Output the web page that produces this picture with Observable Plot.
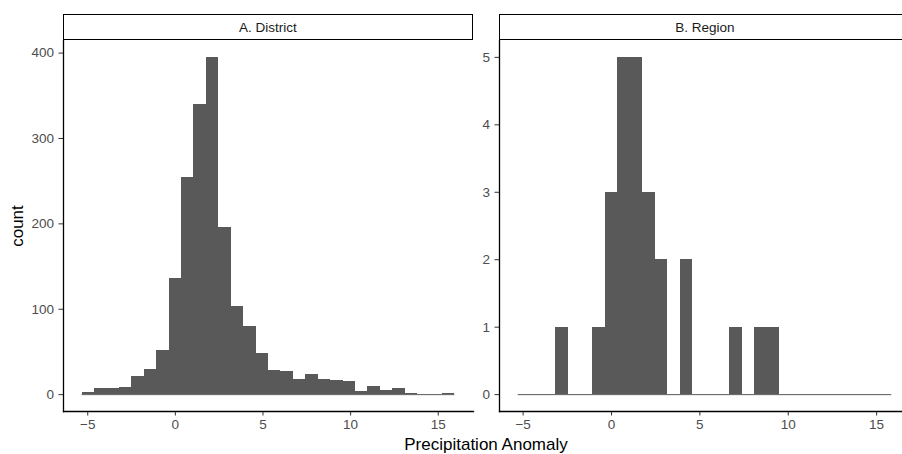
<!DOCTYPE html>
<html>
<head>
<meta charset="utf-8">
<script src="https://cdn.jsdelivr.net/npm/d3@7"></script>
<script src="https://cdn.jsdelivr.net/npm/@observablehq/plot@0.6"></script>
<style>
  html, body { margin: 0; padding: 0; background: #fff; }
  #wrap { position: relative; width: 902px; height: 454px; overflow: hidden; font-family: "Liberation Sans", Arial, Helvetica, sans-serif; }
  .strip { position: absolute; top: 14px; height: 26px; box-sizing: border-box; border: 1.5px solid #000; background: #fff;
           font-size: 13.5px; color: #1a1a1a; display: flex; align-items: center; justify-content: center; }
  .plot { position: absolute; top: 40px; }
  .plot svg { max-width: none !important; }
  #xtitle { position: absolute; top: 435px; left: 0; width: 972px; text-align: center; font-size: 17px; color: #000; }
  #ytitle { position: absolute; left: 18px; top: 226px; transform: translate(-50%, -50%) rotate(-90deg); font-size: 17px; color: #000; white-space: nowrap; }
</style>
</head>
<body>
<div id="wrap">
  <div class="strip" id="stripA" style="left:63px; width:410px;">A. District</div>
  <div class="strip" id="stripB" style="left:499px; width:412px;">B. Region</div>
  <div class="plot" id="plotA" style="left:0px; width:485px;"></div>
  <div class="plot" id="plotB" style="left:440px; width:481px;"></div>
  <div id="ytitle">count</div>
  <div id="xtitle">Precipitation Anomaly</div>
</div>
<script>
// ---- data ----
const panelTitles = ["A. District", "B. Region"];
const xTicks = [-5, 0, 5, 10, 15];
const districtRange = [-5.32, 15.95];
const districtCounts = [2, 7, 7, 8, 21, 30, 52, 136, 254, 340, 395, 196, 103, 80, 48, 28, 27, 18, 24, 18, 16, 15, 4, 10, 5, 7, 1, 0, 0, 1];
const districtYTicks = [0, 100, 200, 300, 400];
const regionRange = [-5.28, 15.86];
const regionCounts = [0, 0, 0, 1, 0, 0, 1, 3, 5, 5, 3, 2, 0, 2, 0, 0, 0, 1, 0, 1, 1, 0, 0, 0, 0, 0, 0, 0, 0, 0];
const regionYTicks = [0, 1, 2, 3, 4, 5];

function bins(range, counts) {
  const w = (range[1] - range[0]) / counts.length;
  return counts.map((c, i) => ({x1: range[0] + i * w, x2: range[0] + (i + 1) * w, count: c}));
}

function panel(range, counts, yTicks, opts) {
  const data = bins(range, counts);
  const maxC = d3.max(counts);
  const span = range[1] - range[0];
  const xDom = [range[0] - 0.05 * span, range[1] + 0.05 * span];
  const yDom = [-0.05 * maxC, maxC * 1.05];
  return Plot.plot({
    width: opts.width,
    height: 414,
    marginLeft: opts.marginLeft,
    marginRight: opts.marginRight,
    marginTop: 0,
    marginBottom: 43,
    style: {fontFamily: '"Liberation Sans", Arial, Helvetica, sans-serif', fontSize: "13.5px", color: "#4d4d4d", background: "transparent", overflow: "visible"},
    x: {domain: xDom},
    y: {domain: yDom},
    marks: [
      Plot.ruleY([0], {x1: range[0], x2: range[1], stroke: "#595959", strokeWidth: 1}),
      Plot.rectY(data, {x1: "x1", x2: "x2", y1: 0, y2: "count", fill: "#595959", inset: 0, shapeRendering: "crispEdges"}),
      Plot.axisX({ticks: xTicks, tickSize: 4.5, tickPadding: 3.5, tickFormat: d => d < 0 ? "\u2212" + Math.abs(d) : String(d), label: null, stroke: "#333333", fill: "#4d4d4d", fontSize: 13.5}),
      Plot.axisY({ticks: yTicks, tickSize: 4.5, tickPadding: 5, tickFormat: d => String(d), label: null, stroke: "#333333", fill: "#4d4d4d", fontSize: 13.5}),
      Plot.frame({anchor: "left", stroke: "#000", strokeWidth: 1.3}),
      Plot.frame({anchor: "bottom", stroke: "#000", strokeWidth: 1.3})
    ]
  });
}

document.getElementById("plotA").appendChild(panel(districtRange, districtCounts, districtYTicks, {width: 485, marginLeft: 63, marginRight: 12}));
document.getElementById("plotB").appendChild(panel(regionRange, regionCounts, regionYTicks, {width: 481, marginLeft: 59, marginRight: 11}));
</script>
</body>
</html>
